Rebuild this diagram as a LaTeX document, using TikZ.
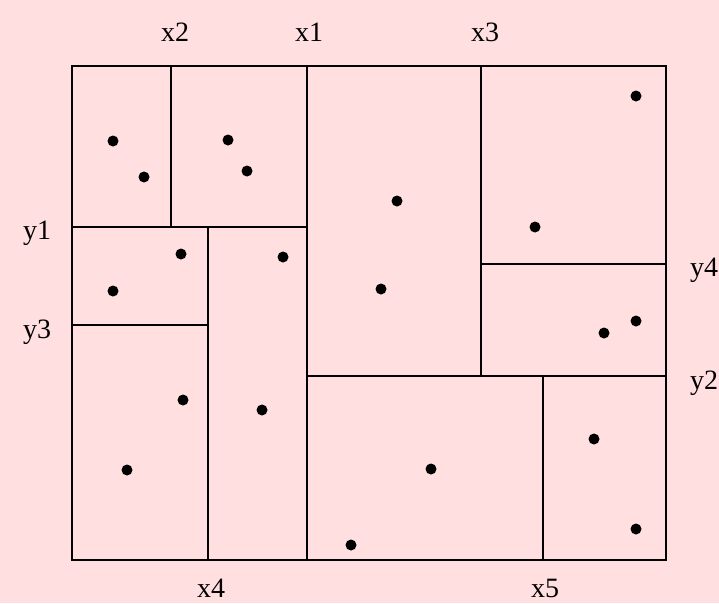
\documentclass[tikz,border=0pt]{standalone}
\usepackage{fontspec}
\setmainfont{Liberation Serif}
\usepackage{xcolor}
\usetikzlibrary{positioning}
\definecolor{bgpink}{HTML}{FFDFDF}

\begin{document}
\begin{tikzpicture}[
    x=1pt, y=-1pt,
    cut/.style={draw=black, line width=1.1pt},
    pt/.style={circle, fill=black, inner sep=0pt, minimum size=11pt},
    lbl/.style={anchor=base, font=\fontsize{28}{32}\selectfont, inner sep=0pt}
]

\fill[bgpink] (0,0) rectangle (719,603);
\useasboundingbox (0,0) rectangle (719,603);

% outer box and splits
\coordinate (nw) at (72,66);
\coordinate (se) at (666,560);
\draw[cut] (nw) rectangle (se);

\coordinate (x1t) at (307,66);  \coordinate (x1b) at (307,560);
\coordinate (y1l) at (72,227);  \coordinate (y1r) at (307,227);
\coordinate (x2t) at (171,66);  \coordinate (x2b) at (171,227);
\coordinate (x4t) at (208,227); \coordinate (x4b) at (208,560);
\coordinate (y3l) at (72,325);  \coordinate (y3r) at (208,325);
\coordinate (y2l) at (307,376); \coordinate (y2r) at (666,376);
\coordinate (x3t) at (481,66);  \coordinate (x3b) at (481,376);
\coordinate (y4l) at (481,264); \coordinate (y4r) at (666,264);
\coordinate (x5t) at (543,376); \coordinate (x5b) at (543,560);

\draw[cut] (x1t) -- (x1b);
\draw[cut] (y1l) -- (y1r);
\draw[cut] (x2t) -- (x2b);
\draw[cut] (x4t) -- (x4b);
\draw[cut] (y3l) -- (y3r);
\draw[cut] (y2l) -- (y2r);
\draw[cut] (x3t) -- (x3b);
\draw[cut] (y4l) -- (y4r);
\draw[cut] (x5t) -- (x5b);

% labels
\node[lbl] (lx2) at (175,41) {x2};
\node[lbl] (lx1) at (309,41) {x1};
\node[lbl] (lx3) at (485,41) {x3};
\node[lbl] (ly1) at (37,239) {y1};
\node[lbl] (ly3) at (37,338) {y3};
\node[lbl] (ly4) at (704,276) {y4};
\node[lbl] (ly2) at (704,389) {y2};
\node[lbl] (lx4) at (211,597) {x4};
\node[lbl] (lx5) at (545,597) {x5};

% points
\foreach \px/\py [count=\i] in {113/141, 144/177, 228/140, 247/171, 181/254,
    113/291, 283/257, 397/201, 381/289, 535/227, 636/96, 604/333, 636/321,
    183/400, 262/410, 127/470, 431/469, 351/545, 594/439, 636/529}
  \node[pt] (p\i) at (\px,\py) {};

\end{tikzpicture}
\end{document}
